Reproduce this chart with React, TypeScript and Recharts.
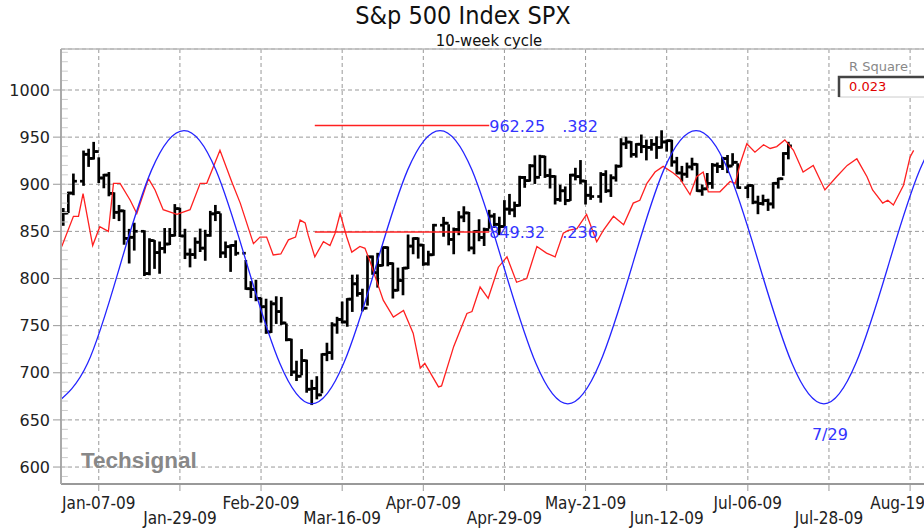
import React from 'react';
import { ComposedChart, Line, Bar, XAxis, YAxis, CartesianGrid, ReferenceLine, ReferenceDot } from 'recharts';

// weekday index (0 = Dec-29-08), holidays skipped
const tradeIdx = [
  0, 1, 2, 4,
  5, 6, 7, 8, 9,
  10, 11, 12, 13, 14,
  16, 17, 18, 19,
  20, 21, 22, 23, 24,
  25, 26, 27, 28, 29,
  30, 31, 32, 33, 34,
  36, 37, 38, 39,
  40, 41, 42, 43, 44,
  45, 46, 47, 48, 49,
  50, 51, 52, 53, 54,
  55, 56, 57, 58, 59,
  60, 61, 62, 63, 64,
  65, 66, 67, 68, 69,
  70, 71, 72, 73,
  75, 76, 77, 78, 79,
  80, 81, 82, 83, 84,
  85, 86, 87, 88, 89,
  90, 91, 92, 93, 94,
  95, 96, 97, 98, 99,
  100, 101, 102, 103, 104,
  106, 107, 108, 109,
  110, 111, 112, 113, 114,
  115, 116, 117, 118, 119,
  120, 121, 122, 123, 124,
  125, 126, 127, 128, 129,
  130, 131, 132, 133,
  135, 136, 137, 138, 139,
  140, 141, 142, 143,
];
const firstOpen = 872.4;
const closes = [
  869.42, 890.64, 903.25, 931.8,
  927.45, 934.7, 906.65, 909.73, 890.35,
  870.26, 871.79, 842.62, 843.74, 850.12,
  805.22, 840.24, 827.5, 831.95,
  836.57, 845.71, 874.09, 845.14, 825.88,
  825.44, 838.51, 832.23, 845.85, 868.6,
  869.89, 827.16, 833.74, 835.19, 826.84,
  789.17, 788.42, 778.94, 770.05,
  743.33, 773.14, 764.9, 752.83, 735.09,
  700.82, 696.33, 712.87, 682.55, 683.38,
  676.53, 719.6, 721.36, 750.74, 756.55,
  753.89, 778.12, 794.35, 784.04, 768.54,
  822.92, 806.12, 813.88, 832.86, 815.94,
  787.53, 797.87, 811.08, 834.38, 842.5,
  835.48, 815.55, 825.16, 856.56,
  858.73, 841.5, 852.06, 865.3, 869.6,
  832.39, 850.08, 843.55, 851.92, 866.23,
  857.51, 855.16, 873.64, 872.81, 877.52,
  907.24, 903.8, 919.53, 907.39, 929.23,
  909.24, 908.35, 883.92, 893.07, 882.88,
  909.71, 908.13, 903.47, 888.33, 887.0,
  910.33, 893.06, 906.83, 919.14,
  942.87, 944.74, 931.76, 942.46, 940.09,
  939.14, 942.43, 939.15, 944.89, 946.21,
  923.72, 911.97, 910.71, 918.37, 921.23,
  893.04, 895.1, 900.94, 920.26, 918.9,
  927.23, 919.32, 923.33, 896.42,
  898.72, 881.03, 879.56, 882.68, 879.13,
  901.05, 905.84, 932.68, 940.74,
];
const highs = [
  873.7, 891.1, 910.3, 934.7,
  936.6, 943.9, 927.5, 910.0, 911.9,
  890.4, 877.0, 871.8, 851.6, 858.1,
  850.1, 841.7, 839.7, 838.2,
  852.5, 852.5, 877.9, 874.1, 851.7,
  830.8, 842.6, 851.9, 850.6, 870.7,
  877.0, 868.1, 838.2, 835.2, 839.4,
  818.6, 796.2, 797.6, 778.7,
  777.5, 775.5, 780.1, 779.4, 751.3,
  735.1, 711.7, 724.1, 712.9, 691.5,
  695.3, 719.6, 730.8, 752.6, 758.3,
  774.5, 778.1, 803.0, 803.2, 788.1,
  823.4, 823.4, 826.2, 832.9, 832.9,
  816.0, 810.5, 811.1, 845.6, 842.6,
  842.5, 835.5, 828.4, 856.9,
  864.3, 856.5, 853.0, 870.4, 875.6,
  869.6, 850.1, 861.8, 852.9, 871.8,
  868.3, 864.5, 882.1, 888.7, 880.5,
  907.9, 907.7, 920.3, 929.6, 930.2,
  929.2, 915.6, 908.4, 898.4, 896.6,
  910.0, 916.4, 924.6, 903.5, 896.7,
  911.8, 913.8, 909.5, 920.0,
  947.8, 949.4, 944.7, 942.5, 951.7,
  946.3, 946.9, 949.8, 956.2, 946.3,
  946.2, 928.0, 918.4, 921.9, 927.1,
  921.2, 898.7, 910.9, 921.4, 922.0,
  928.0, 930.0, 931.9, 921.2,
  898.7, 898.6, 886.8, 887.9, 883.6,
  901.1, 905.8, 933.0, 944.0,
];
const lows = [
  857.0, 870.6, 889.4, 899.4,
  919.5, 927.3, 902.4, 896.8, 888.3,
  864.3, 862.0, 836.9, 817.0, 830.7,
  803.7, 804.5, 811.3, 806.1,
  827.7, 836.6, 845.7, 845.1, 821.7,
  812.9, 821.9, 829.2, 819.9, 845.4,
  862.0, 822.9, 822.9, 808.1, 825.2,
  789.1, 780.4, 777.0, 754.3,
  742.4, 743.3, 752.9, 751.8, 734.5,
  697.6, 692.3, 698.4, 679.9, 666.8,
  672.9, 679.3, 713.4, 714.8, 742.5,
  753.4, 749.9, 765.6, 781.8, 766.2,
  772.3, 805.0, 791.4, 814.0, 814.0,
  779.8, 787.5, 783.3, 811.1, 826.8,
  822.2, 814.5, 814.8, 825.2,
  845.4, 836.3, 826.8, 847.0, 860.9,
  829.9, 826.8, 840.6, 835.6, 853.9,
  854.7, 847.1, 855.2, 868.6, 866.1,
  877.5, 897.3, 903.9, 901.4, 909.8,
  907.8, 896.6, 879.6, 882.5, 878.9,
  883.4, 905.2, 901.4, 879.6, 884.5,
  881.5, 891.9, 887.6, 903.9,
  919.1, 938.5, 929.3, 929.3, 934.1,
  926.4, 936.7, 928.0, 939.0, 935.7,
  919.7, 911.6, 903.8, 907.9, 915.8,
  893.0, 888.9, 896.7, 896.3, 913.0,
  916.2, 912.9, 920.8, 896.4,
  886.4, 879.9, 869.3, 878.5, 872.8,
  875.3, 896.5, 910.0, 927.5,
];

const redX = [
  -0.3, 2.0, 3.0, 3.9, 5.8, 7.2, 8.9, 9.9, 11.2, 13.2,
  14.5, 16.8, 18.1, 19.7, 22.4, 25.0, 27.0, 28.3, 30.9, 33.2,
  34.9, 37.5, 38.8, 40.1, 41.4, 42.9, 44.4, 45.8, 46.7, 47.7,
  48.3, 49.6, 51.3, 52.6, 53.6, 54.6, 55.9, 56.9, 58.5, 59.5,
  60.5, 61.5, 63.1, 65.1, 67.1, 69.0, 70.4, 71.3, 74.0, 74.6,
  77.0, 79.6, 80.6, 82.2, 83.8, 85.8, 87.5, 89.4, 91.4, 93.4,
  95.3, 97.0, 98.6, 99.6, 101.3, 103.2, 105.2, 106.5, 108.5, 110.5,
  112.4, 113.7, 115.1, 116.7, 118.3, 120.3, 121.6, 123.6, 124.9, 126.2,
  127.2, 129.5, 131.5, 132.5, 133.5, 134.8, 136.4, 138.1, 139.4, 140.7,
  142.3, 144.0, 145.9, 147.9, 150.2, 152.5, 154.6, 156.5, 158.5, 159.6,
  161.6, 162.6, 163.7, 165.7, 167.0, 167.7,
];
const redY = [
  834, 866, 866, 890, 835, 855, 850, 901, 901, 883,
  869, 906, 894, 873, 868, 873, 901, 901, 936, 903,
  880, 837, 844, 844, 825, 826, 841, 844, 862, 859,
  846, 823, 839, 835, 848, 869, 844, 828, 834, 832,
  818, 802, 777, 759, 766, 742, 705, 710, 685, 686,
  728, 763, 765, 791, 779, 812, 823, 796, 800, 834,
  827, 823, 848, 851, 853, 868, 839, 851, 866, 857,
  880, 883, 901, 913, 919, 912, 906, 889, 908, 913,
  892, 892, 903, 901, 922, 943, 934, 942, 938, 940,
  947, 936, 913, 920, 894, 908, 920, 927, 908, 894,
  880, 883, 878, 899, 929, 936,
];

const blueX = [
  -1.5, 4.8, 11.1, 17.4, 23.8, 30.1, 36.4, 42.7, 49.0, 55.3,
  61.6, 67.9, 74.3, 80.6, 86.9, 93.2, 99.5, 105.8, 112.1, 118.4,
  124.8, 131.1, 137.4, 143.7, 150.0, 156.3, 162.6, 168.9, 175.3, 181.6,
];
const blueY = [
  667, 710, 812, 915, 957, 915, 812, 710, 667, 710,
  812, 915, 957, 915, 812, 710, 667, 710, 812, 915,
  957, 915, 812, 710, 667, 710, 812, 915, 957, 915,
];

const xTickIdx = [7, 23, 39, 55, 71, 87, 103, 119, 135, 151, 167];
const xTickLabels = ['Jan-07-09', 'Jan-29-09', 'Feb-20-09', 'Mar-16-09', 'Apr-07-09', 'Apr-29-09', 'May-21-09', 'Jun-12-09', 'Jul-06-09', 'Jul-28-09', 'Aug-19-09'];
const yTicks = [600, 650, 700, 750, 800, 850, 900, 950, 1000];
const yMinorTicks = [590, 600, 610, 620, 630, 640, 650, 660, 670, 680, 690, 700, 710, 720, 730, 740, 750, 760, 770, 780, 790, 800, 810, 820, 830, 840, 850, 860, 870, 880, 890, 900, 910, 920, 930, 940, 950, 960, 970, 980, 990, 1000, 1010, 1020, 1030, 1040];

const fibLevels = [962.25, 849.32];
const fibRatios = ['.382', '.236'];
const fibStart = 49.6;
const fibEnd = 84.0;
const cycleLabelX = 150;
const cycleLabelY = 667;
const cycleLabel = '7/29';
const rSquare = '0.023';

const X_DOMAIN: [number, number] = [-0.45, 176.25];
const Y_DOMAIN: [number, number] = [582, 1043.5];

const ohlcData = tradeIdx.map((x, i) => ({
  x,
  open: i === 0 ? firstOpen : closes[i - 1],
  high: highs[i],
  low: lows[i],
  close: closes[i],
}));
const redData = redX.map((x, i) => ({ x, red: redY[i] }));
const blueData = blueX.map((x, i) => ({ x, blue: blueY[i] }));

const SANS = "'DejaVu Sans', Verdana, sans-serif";
const COND = "'DejaVu Sans Condensed', 'DejaVu Sans', sans-serif";

const OhlcShape = (props: any) => {
  const { x, y, width, height, payload } = props;
  if (x == null || y == null || height == null) return null;
  const cx = x + width / 2;
  const top = Math.min(y, y + height);
  const h = Math.abs(height);
  const { high, low, open, close } = payload;
  const toY = (v: number) => (high === low ? top : top + ((high - v) / (high - low)) * h);
  return (
    <g stroke="#000" strokeWidth={2.7}>
      <line x1={cx} x2={cx} y1={top - 1} y2={top + h + 1} />
      <line x1={cx - 3.5} x2={cx} y1={toY(open)} y2={toY(open)} />
      <line x1={cx} x2={cx + 3.5} y1={toY(close)} y2={toY(close)} />
    </g>
  );
};

const XTick = (props: any) => {
  const { x, y, payload } = props;
  const i = xTickIdx.indexOf(payload.value);
  if (i < 0) return <g />;
  return (
    <text x={x} y={y + (i % 2 ? 31 : 16)} textAnchor="middle" fontSize={17} fontFamily={COND} fill="#222">
      {xTickLabels[i]}
    </text>
  );
};

export default function App() {
  return (
    <div style={{ position: 'fixed', left: 0, top: 0, width: 924, height: 529, overflow: 'hidden', background: '#fff' }}>
      <ComposedChart
        width={957}
        height={529}
        data={ohlcData}
        margin={{ top: 49, right: 0, bottom: 0, left: 0 }}
      >
        <CartesianGrid stroke="#999" strokeDasharray="4 3" />
        <XAxis
          dataKey="x"
          type="number"
          domain={X_DOMAIN}
          ticks={xTickIdx}
          interval={0}
          allowDataOverflow
          height={45}
          tickSize={7}
          tick={<XTick />}
          axisLine={{ stroke: '#999', strokeWidth: 2 }}
          tickLine={{ stroke: '#999' }}
        />
        <YAxis
          type="number"
          domain={Y_DOMAIN}
          ticks={yTicks}
          interval={0}
          allowDataOverflow
          width={61}
          tickSize={8}
          tickMargin={3}
          tick={{ fill: '#222', fontSize: 16, fontFamily: SANS }}
          axisLine={{ stroke: '#aaa', strokeWidth: 2 }}
          tickLine={{ stroke: '#999' }}
        />
        <ReferenceLine y={Y_DOMAIN[1]} stroke="#bbb" strokeWidth={1.5} />
        {yMinorTicks.map((v) => (
          <ReferenceLine key={'m' + v} segment={[{ x: X_DOMAIN[0], y: v }, { x: X_DOMAIN[0] + 1.35, y: v }]} stroke="#ccc" />
        ))}
        <Line data={redData} dataKey="red" type="linear" stroke="#ff2020" strokeWidth={1.3} dot={false} isAnimationActive={false} />
        <Line data={blueData} dataKey="blue" type="natural" stroke="#2424ff" strokeWidth={1.3} dot={false} isAnimationActive={false} />
        {fibLevels.map((lv) => (
          <ReferenceLine key={'f' + lv} segment={[{ x: fibStart, y: lv }, { x: fibEnd, y: lv }]} stroke="#ff2020" strokeWidth={1.5} />
        ))}
        <Bar dataKey={(d: any) => [d.low, d.high]} barSize={6} shape={<OhlcShape />} isAnimationActive={false} />
        {fibLevels.map((lv, i) => (
          <ReferenceDot
            key={'fl' + lv}
            x={fibEnd}
            y={lv}
            r={1}
            fill="none"
            stroke="none"
            ifOverflow="visible"
            label={{
              content: (p: any) => {
                const vb = p.viewBox || {};
                const cx = (vb.x ?? 0) + (vb.width ?? 0) / 2;
                const cy = (vb.y ?? 0) + (vb.height ?? 0) / 2;
                return (
                  <g fontFamily={SANS} fontSize={16} fill="#3333ff">
                    <text x={cx} y={cy + 6}>{lv.toFixed(2)}</text>
                    <text x={cx + 73} y={cy + 6}>{fibRatios[i]}</text>
                  </g>
                );
              },
            }}
          />
        ))}
        <ReferenceDot
          x={cycleLabelX}
          y={cycleLabelY}
          r={1}
          fill="none"
          stroke="none"
          ifOverflow="visible"
          label={{
            content: (p: any) => {
              const vb = p.viewBox || {};
              const cx = (vb.x ?? 0) + (vb.width ?? 0) / 2;
              const cy = (vb.y ?? 0) + (vb.height ?? 0) / 2;
              return (
                <text x={cx - 12} y={cy + 36} fontFamily={SANS} fontSize={16} fill="#3333ff">
                  {cycleLabel}
                </text>
              );
            },
          }}
        />
      </ComposedChart>
      <svg width={924} height={529} style={{ position: 'absolute', left: 0, top: 0, pointerEvents: 'none' }}>
        <text x={463} y={24} textAnchor="middle" fontSize={25} fontFamily={COND} fill="#111">S&amp;p 500 Index SPX</text>
        <text x={489} y={46} textAnchor="middle" fontSize={16.5} fontFamily={COND} fill="#111">10-week cycle</text>
        <text x={849} y={71} fontSize={13} fontFamily={SANS} fill="#888">R Square</text>
        <rect x={839} y={77} width={100} height={20} fill="#fff" stroke="#ccc" />
        <path d="M839,97 L839,77 L939,77" fill="none" stroke="#444" strokeWidth={2.5} />
        <text x={849} y={91} fontSize={13} fontFamily={SANS} fill="#e00000">{rSquare}</text>
        <text x={81} y={468} fontSize={22.5} fontWeight="bold" fontFamily="'Liberation Sans', Arial, sans-serif" fill="#888">Techsignal</text>
      </svg>
    </div>
  );
}
